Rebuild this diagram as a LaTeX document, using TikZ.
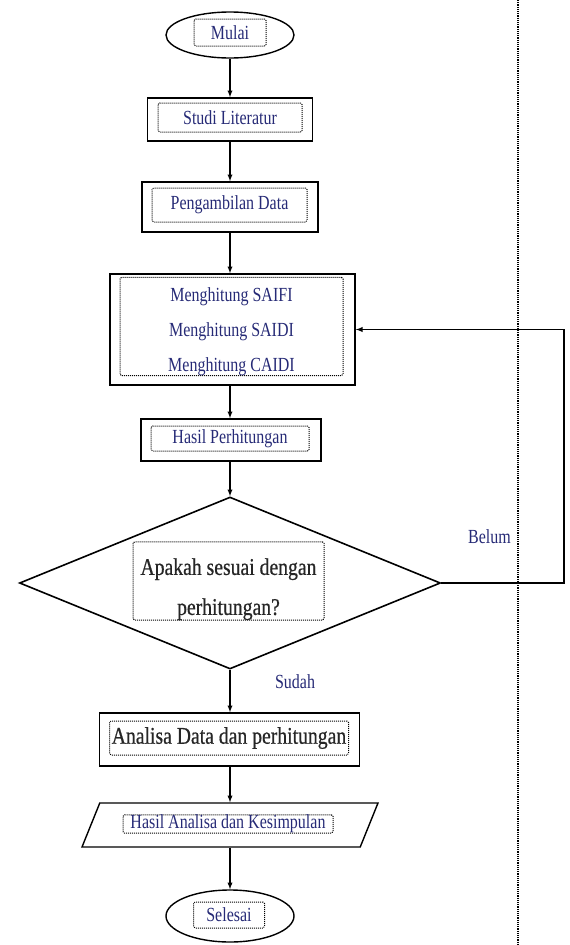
\documentclass[tikz,border=0pt]{standalone}
\usepackage{fontspec}
\setmainfont{Liberation Serif}
\newfontfamily\flowfont[FakeStretch=0.8]{Liberation Serif}
\newfontfamily\bigflowfont[FakeStretch=0.82,FakeBold=0.6]{Liberation Serif}
\usetikzlibrary{positioning,shapes,arrows}
\usepackage{xcolor}
\definecolor{inkblue}{RGB}{38,42,118}

\begin{document}
\begin{tikzpicture}
[x=1pt, y=-1pt,
% The frame style is used to draw the outer boxes of each step
frame/.style={rectangle, draw, line width=1.6pt, inner sep=0pt},
% The txtbox style is used for the dotted boxes holding the texts
txtbox/.style={rectangle, draw, densely dotted, line width=1pt, rounded corners=1.5pt, inner sep=0pt, align=center, text=inkblue, font=\flowfont\fontsize{20}{35}\selectfont},
bigbox/.style={txtbox, text=black!85, font=\bigflowfont\fontsize{24}{40}\selectfont},
term/.style={ellipse, draw, line width=1.4pt, inner sep=0pt},
decision/.style={diamond, draw, line width=1.6pt, inner sep=0pt},
io/.style={trapezium, trapezium left angle=68, trapezium right angle=112, trapezium stretches body=true, draw, line width=1.4pt, inner xsep=0pt, inner ysep=16pt},
note/.style={font=\flowfont\fontsize{20}{24}\selectfont, text=inkblue},
flow/.style={line width=1.3pt, -latex}
]
\useasboundingbox (0,0) rectangle (570,945);
% Garis pemisah
\draw[densely dotted, line width=1.2pt] (518,0) -- (518,945);

% Draw steps
\node[term, minimum width=128pt, minimum height=46pt] (mulai) at (230,35) {};
\node[txtbox, minimum width=72pt, minimum height=27pt] (mulaiT) at (230,32.5) {Mulai};

\node[frame, minimum width=165pt, minimum height=43pt] (studi) at (230,119.5) {};
\node[txtbox, minimum width=144pt, minimum height=29pt] (studiT) at (230,117.5) {Studi Literatur};

\node[frame, minimum width=176pt, minimum height=50pt] (ambil) at (230,207) {};
\node[txtbox, minimum width=155pt, minimum height=34pt] (ambilT) at (229.5,205) {Pengambilan Data};

\node[frame, minimum width=245pt, minimum height=111pt] (hitung) at (232.5,329.5) {};
\node[txtbox, minimum width=223pt, minimum height=97pt] (hitungT) at (231.5,326.5) {\rule{0pt}{24pt}Menghitung SAIFI\\Menghitung SAIDI\\Menghitung CAIDI};

\node[frame, minimum width=180pt, minimum height=42pt] (hasil) at (231,440) {};
\node[txtbox, minimum width=158pt, minimum height=25pt] (hasilT) at (230,438.5) {Hasil Perhitungan};

\node[decision, minimum width=421pt, minimum height=172pt] (cek) at (230,583) {};
\node[bigbox, minimum width=191pt, minimum height=72pt] (cekT) at (228.5,581) {\rule{0pt}{33pt}Apakah sesuai dengan\\perhitungan?};

\node[frame, minimum width=260pt, minimum height=53pt] (analisa) at (229.5,739.5) {};
\node[bigbox, minimum width=239pt, minimum height=34pt] (analisaT) at (229,738) {Analisa Data dan perhitungan};

\node[io, minimum width=296pt] (simpul) at (230,825) {\strut};
\node[txtbox, minimum width=210pt, minimum height=18pt] (simpulT) at (228,824) {Hasil Analisa dan Kesimpulan};

\node[term, minimum width=128pt, minimum height=52pt] (selesai) at (230,916) {};
\node[txtbox, minimum width=71pt, minimum height=26pt] (selesaiT) at (229,915) {Selesai};

\node[note] (belum) at (489.5,537) {Belum};
\node[note] (sudah) at (295,682) {Sudah};

% Draw arrows
\draw[flow] (mulai.south) -- (studi.north);
\draw[flow] (studi.south) -- (ambil.north);
\draw[flow] (ambil.south) -- (ambil.south |- hitung.north);
\draw[flow] (ambil.south |- hitung.south) -- (ambil.south |- hasil.north);
\draw[flow] (ambil.south |- hasil.south) -- (cek.north);
\draw[flow] (cek.south) -- (cek.south |- analisa.north);
\draw[flow] (cek.south |- analisa.south) -- (simpul.north);
\draw[flow] (simpul.south) -- (selesai.north);
\coordinate (balik) at (564,583);
\draw[flow] (cek.east) -- (balik) |- (hitung.east);
\end{tikzpicture}
\end{document}
